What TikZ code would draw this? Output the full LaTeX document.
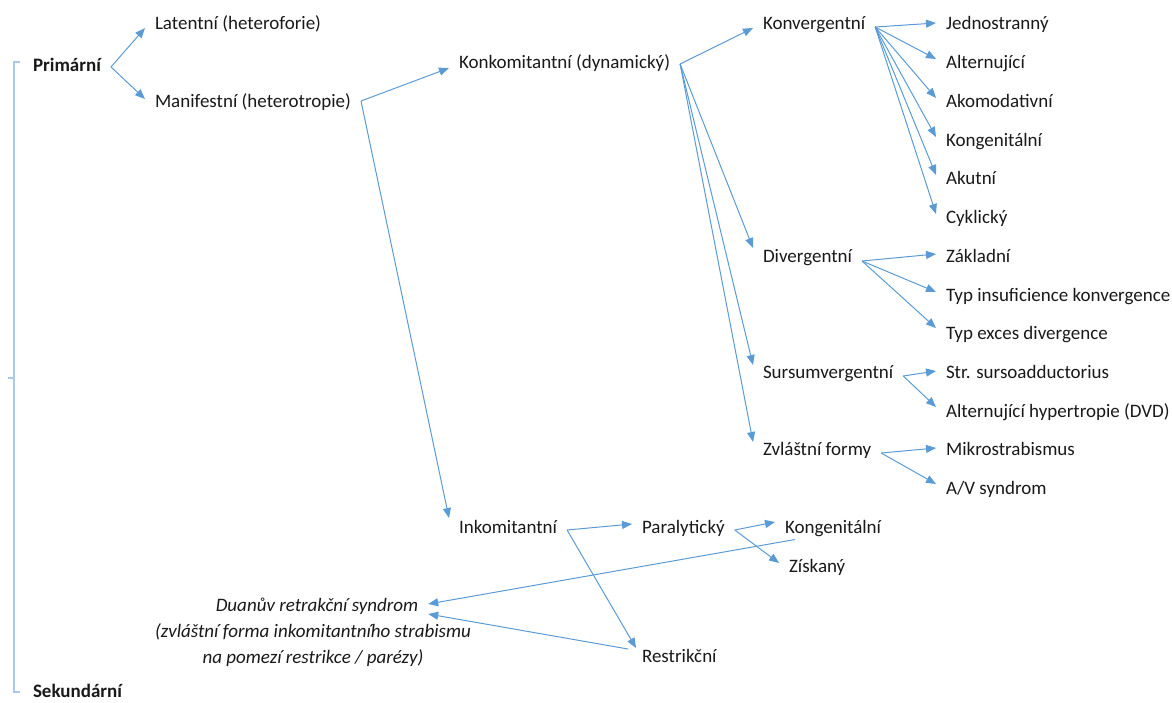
\documentclass[tikz,border=0pt]{standalone}
\usepackage{fontspec}
\setmainfont{Carlito}
\usetikzlibrary{arrows.meta}

\definecolor{arrowblue}{RGB}{91,155,213}
\definecolor{bracketblue}{RGB}{170,200,232}
\definecolor{txt}{RGB}{25,25,25}

\begin{document}
\fontsize{19}{26}\selectfont
\begin{tikzpicture}[x=1pt,y=-1pt,
    item/.style={anchor=west, inner sep=0pt, outer xsep=10pt, outer ysep=2pt,
                 text height=13pt, text depth=4pt, text=txt},
    link/.style={draw=arrowblue, line width=1pt, -{Triangle[length=10pt,width=8pt]}}]

    \useasboundingbox (0,0) rectangle (1172,702);

    % Bracket on the left
    \draw[bracketblue, line width=1.5pt] (20,62) -- (14,62) -- (14,692) -- (20,692);
    \draw[bracketblue, line width=1.5pt] (14,378) -- (8,378);

    % Main groups
    \node[item, font=\bfseries] (prim) at (23,67) {Primární};
    \node[item, font=\bfseries] (sek) at (23,693) {Sekundární};
    \node[item] (lat) at (145,25) {Latentní (heteroforie)};
    \node[item] (man) at (145,103) {Manifestní (heterotropie)};
    \node[item] (konk) at (449,64) {Konkomitantní (dynamický)};
    \node[item] (inkom) at (449,529) {Inkomitantní};

    % Konkomitantní types
    \node[item] (konv) at (753,25) {Konvergentní};
    \node[item] (div) at (753,258) {Divergentní};
    \node[item] (surs) at (753,374) {Sursumvergentní};
    \node[item] (zvl) at (753,451) {Zvláštní formy};

    % Leaves on the right
    \node[item] (jedn) at (936,25) {Jednostranný};
    \node[item] (alt) at (936,64) {Alternující};
    \node[item] (akom) at (936,103) {Akomodativní};
    \node[item] (kong) at (936,142) {Kongenitální};
    \node[item] (akut) at (936,180) {Akutní};
    \node[item] (cykl) at (936,219) {Cyklický};
    \node[item] (zakl) at (936,258) {Základní};
    \node[item] (insuf) at (936,297) {Typ insuficience konvergence};
    \node[item] (exces) at (936,335) {Typ exces divergence};
    \node[item] (sursoad) at (936,374) {Str. sursoadductorius};
    \node[item] (dvd) at (936,413) {Alternující hypertropie (DVD)};
    \node[item] (mikro) at (936,451) {Mikrostrabismus};
    \node[item] (avs) at (936,490) {A/V syndrom};

    % Inkomitantní types
    \node[item] (paral) at (632,529) {Paralytický};
    \node[item] (restr) at (632,658) {Restrikční};
    \node[item] (kongp) at (775,529) {Kongenitální};
    \node[item] (zisk) at (779,568) {Získaný};
    \node[item, anchor=center, font=\itshape] (duan) at (317,607) {Duanův retrakční syndrom};
    \node[inner sep=0pt, text=txt, font=\itshape, align=center] (duannote) at (313,645)
        {(zvláštní forma inkomitantního strabismu\\na pomezí restrikce / parézy)};

    % Arrows
    \draw[link] (prim.east) -- ([yshift=-3pt]lat.west);
    \draw[link] (prim.east) -- ([yshift=4pt]man.west);
    \draw[link] ([yshift=2pt]man.east) -- ([yshift=-4pt]konk.west);
    \draw[link] ([yshift=2pt]man.east) -- ([yshift=11pt]inkom.west);

    \draw[link] (konk.east) -- ([yshift=-3pt]konv.west);
    \draw[link] (konk.east) -- ([yshift=10pt]div.west);
    \draw[link] (konk.east) -- ([yshift=9pt]surs.west);
    \draw[link] (konk.east) -- ([yshift=9pt]zvl.west);

    \draw[link] ([yshift=-2pt]konv.east) -- ([yshift=2pt]jedn.west);
    \foreach \leaf in {alt,akom,kong,akut,cykl}
        \draw[link] ([yshift=-2pt]konv.east) -- ([yshift=5pt]\leaf.west);

    \draw[link] ([yshift=-3pt]div.east) -- ([yshift=4pt]zakl.west);
    \draw[link] ([yshift=-3pt]div.east) -- ([yshift=5pt]insuf.west);
    \draw[link] ([yshift=-3pt]div.east) -- ([yshift=7pt]exces.west);

    \draw[link] ([yshift=-2pt]surs.east) -- ([yshift=3pt]sursoad.west);
    \draw[link] ([yshift=-2pt]surs.east) -- ([yshift=6pt]dvd.west);

    \draw[link] ([yshift=-2pt]zvl.east) -- ([yshift=3pt]mikro.west);
    \draw[link] ([yshift=-2pt]zvl.east) -- ([yshift=6pt]avs.west);

    \draw[link] ([yshift=-1pt]inkom.east) -- ([yshift=5pt]paral.west);
    \draw[link] ([yshift=-1pt]inkom.east) -- ([xshift=4pt,yshift=10pt]restr.west);
    \draw[link] ([yshift=-1pt]paral.east) -- ([yshift=7pt]kongp.west);
    \draw[link] ([yshift=-1pt]paral.east) -- ([yshift=5pt]zisk.west);

    \draw[link] ([xshift=20pt]kongp.south west) -- ([yshift=3pt]duan.east);
    \draw[link] ([xshift=-4pt,yshift=9pt]restr.west) -- ([yshift=-7pt]duan.east);

\end{tikzpicture}
\end{document}
